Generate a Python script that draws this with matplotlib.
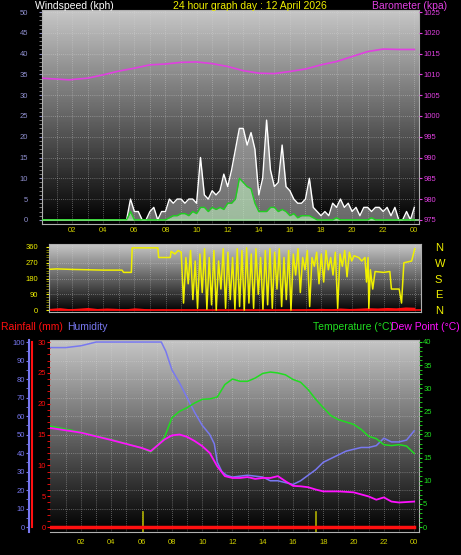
import numpy as np
import matplotlib
matplotlib.use("Agg")
import matplotlib.pyplot as plt
from matplotlib.lines import Line2D

plt.rcParams["font.family"] = ["Liberation Sans", "DejaVu Sans"]

BG = "black"
GUST = "white"
AVG = "#20d020"
BARO = "#e040e0"
DIRC = "#f0f000"
HUM = "#7878f0"
TEMP = "#20dd20"
DEW = "#ff10ff"
RAIN = "#ff1010"

# ---- data ----
wind_hours = np.linspace(0, 24, 97)
gust = [0] * 22 + [
    0, 5, 2, 2, 0, 0, 2, 3, 0, 2, 2, 5, 4, 5, 5, 4, 5, 5, 4, 15, 6, 5, 7, 6, 7, 11,
    8, 12, 17, 22, 22, 18, 21, 17, 6, 10, 24, 12, 8, 9, 18, 8, 7, 5, 4, 4, 5, 10,
    3, 2, 1, 2, 1, 4, 3, 5, 3, 4, 2, 3, 1, 3, 3, 2, 3, 3, 2, 3, 1, 3, 0, 0, 2, 0, 3]
avg = [0] * 22 + [
    0, 2, 0, 0, 0, 0, 0, 0, 0, 0, 0, 0.5, 1, 1, 1.5, 1.5, 1, 2, 1.5, 3, 3, 2, 3, 2.5,
    3, 2.5, 4, 4, 5, 10, 9, 8, 7.5, 4, 2, 2, 2, 3, 3, 2, 2.5, 2, 1, 1.5, 0.5, 1, 1,
    1, 0.5, 0, 0, 0, 0, 0, 0.5, 0, 0, 0, 0, 0, 0, 0, 0, 0.5, 0, 0, 0, 0, 0, 0, 0, 0, 0,
    0, 0]

baro_hours = [0, 1.8, 3, 4, 5, 6, 7, 8, 9, 10, 11, 12, 13, 14, 15, 16, 17, 18, 19,
              20, 21, 22, 23, 24]
baro = [1009.1, 1008.7, 1009.1, 1009.9, 1010.8, 1011.5, 1012.3, 1012.5, 1012.9,
        1013.0, 1012.6, 1011.9, 1010.9, 1010.3, 1010.2, 1010.7, 1011.3, 1012.3,
        1013.1, 1014.3, 1015.5, 1016.1, 1016.0, 1016.0]

dir_calm_hours = [0, 1, 2, 4, 5.2, 5.3, 5.8, 5.85, 7.5, 7.55, 8.3, 8.35, 8.6, 8.8]
dir_calm = [230, 235, 232, 228, 228, 215, 215, 355, 355, 300, 300, 335, 320, 340]
dir_gusty = [330, 40, 300, 150, 340, 60, 280, 10, 320, 100, 350, 5, 300, 30, 340, 0,
             280, 120, 350, 10, 330, 60, 300, 5, 350, 20, 340, 0, 355, 40, 320, 10,
             350, 90, 300, 5, 340, 30, 350, 10, 330, 120, 350, 20, 300, 60, 340, 0,
             320, 200, 350, 100, 300, 230, 340, 20, 300, 250, 330, 150, 320, 160,
             340, 230, 300, 200, 330, 10, 320, 250, 340, 190, 330, 280]
dir_late_hours = [20.1, 20.4, 20.6, 20.8, 20.9, 21.0, 21.05, 21.15, 21.3, 21.45, 22.0,
                  22.4, 22.5, 23.0, 23.15, 23.3, 23.8, 24.0]
dir_late = [310, 300, 280, 300, 160, 300, 10, 230, 120, 220, 215, 220, 120, 120, 40,
            270, 280, 350]
dir_low_hours = np.linspace(0, 24, 41)
dir_low = [12, 10, 14, 8, 11, 15, 9, 12, 10, 7, 13, 9, 4, 6, 3, 5, 4, 6, 3, 5, 4, 3, 6,
           4, 5, 3, 6, 4, 5, 8, 10, 7, 12, 9, 11, 14, 12, 15, 13, 18, 16]

clim_hours_h = [0, 1, 2, 2.5, 3, 7.3, 7.6, 8, 8.5, 9, 9.5, 10, 10.5, 10.8, 11, 11.3,
                11.6, 12, 13, 14, 14.5, 15, 15.5, 16, 16.5, 17, 17.5, 18, 18.5, 19,
                19.5, 20, 20.5, 21, 21.5, 22, 22.5, 23, 23.5, 24]
humidity = [97, 97, 98, 99, 100, 100, 95, 85, 78, 70, 62, 55, 50, 45, 35, 30, 28, 27,
            28, 27, 25, 25, 24, 23, 25, 28, 31, 35, 37, 39, 41, 42, 43, 43, 44, 48, 46,
            46, 47, 52]
clim_hours_t = [0, 2, 4, 6, 6.6, 7, 7.5, 8, 8.5, 9, 9.5, 10, 10.5, 11, 11.5, 12, 12.5,
                13, 13.5, 14, 14.5, 15, 15.5, 16, 16.5, 17, 17.5, 18, 18.5, 19, 20,
                20.5, 21, 21.5, 22, 22.5, 23, 23.5, 24]
temperature = [21.8, 20.5, 18.9, 17.1, 16.2, 17.5, 19.3, 23.6, 25, 25.8, 26.8, 27.6,
               27.7, 28.1, 30.8, 32, 31.5, 31.5, 32.2, 33.2, 33.5, 33.3, 32.9, 31.9,
               31.3, 29.7, 27.6, 25.8, 24.1, 23.2, 22.2, 21.1, 19.6, 19.1, 17.8, 17.6,
               17.8, 17.5, 15.9]
clim_hours_d = [0, 2, 4, 6, 6.6, 7, 7.5, 8, 8.5, 9, 9.5, 10, 10.5, 11, 11.5, 12, 12.5,
                13, 13.5, 14, 14.5, 15, 15.5, 16, 16.5, 17, 17.5, 18, 19, 20, 21, 21.5,
                22, 22.5, 23, 24]
dewpoint = [21.4, 20.4, 18.8, 17.1, 16.4, 17.5, 18.9, 19.8, 20, 19.5, 18.6, 17.5, 16,
            13.1, 11, 10.6, 10.6, 10.8, 10.4, 10.6, 10.6, 11, 9.9, 8.9, 8.8, 8.6, 8.1,
            7.7, 7.7, 7.5, 6.6, 5.9, 6.4, 5.5, 5.3, 5.5]
rain_hours = [0, 24]
rain = [0, 0]
sun_events = [6.08, 17.55]

hour_ticks = list(range(2, 25, 2))
hour_labels = ["%02d" % (h % 24) for h in hour_ticks]

W, H = 461, 555
fig = plt.figure(figsize=(W / 100, H / 100), dpi=100)
fig.patch.set_facecolor(BG)


def box(l, t, r, b):
    return [l / W, 1 - b / H, (r - l) / W, (b - t) / H]


def shade(ax):
    grad = np.linspace(0.78, 0.0, 256).reshape(-1, 1)
    ax.imshow(grad, extent=[0, 1, 0, 1], transform=ax.transAxes, cmap="gray",
              vmin=0, vmax=1, aspect="auto", zorder=0)
    ax.set_facecolor("black")
    for s in ax.spines.values():
        s.set_color("#b0b0b0")
        s.set_linewidth(0.8)


def grid(ax, ys):
    for h in range(1, 25):
        ax.axvline(h, color="#d8d8d8", lw=0.5, ls=(0, (1, 2)), zorder=1, alpha=0.7)
    for y in ys:
        ax.axhline(y, color="#d8d8d8", lw=0.5, ls=(0, (1, 2)), zorder=1, alpha=0.7)


fs = 5.5

# ---- top: wind + barometer ----
ax1 = fig.add_axes(box(42, 10, 419, 224))
shade(ax1)
ax1.set_xlim(0.06, 24.3)
ax1.set_ylim(-1, 50.5)
grid(ax1, range(5, 51, 5))
ax1.fill_between(wind_hours, gust, color="#e8e8e8", alpha=0.45, zorder=2, lw=0)
ax1.fill_between(wind_hours, avg, color="#c0f0c0", alpha=0.6, zorder=2, lw=0)
ax1.plot(wind_hours, gust, color=GUST, lw=1.0, zorder=3)
ax1.plot(wind_hours, avg, color=AVG, lw=1.0, zorder=4)
ax1.axhline(0, color="#a0e0a0", lw=1.2, zorder=2)
ax1.set_yticks(range(0, 51, 5))
ax1.set_yticks(range(0, 51), minor=True)
ax1.set_xticks(hour_ticks)
ax1.set_xticklabels(hour_labels)
ax1.tick_params(axis="y", colors="#9090c0", labelsize=fs, length=2, pad=8)
ax1.tick_params(axis="y", which="minor", colors="#909090", length=2)
ax1.tick_params(axis="x", colors="#d0d000", labelsize=fs, length=0, pad=2)
ax1.tick_params(axis="y", labelcolor="#9090d0")

ax1b = ax1.twinx()
ax1b.set_ylim(974, 1025.5)
ax1b.plot(baro_hours, baro, color=BARO, lw=1.2, zorder=5)
ax1b.set_yticks(range(975, 1026, 5))
ax1b.tick_params(axis="y", colors=BARO, labelsize=fs, length=2, pad=1)
for s in ax1b.spines.values():
    s.set_visible(False)

# ---- middle: wind direction ----
ax2 = fig.add_axes(box(49, 244, 421, 312))
shade(ax2)
ax2.set_xlim(0.51, 24.4)
ax2.set_ylim(-11, 377)
grid(ax2, [90, 180, 270])
ax2.fill_between(dir_low_hours, dir_low, color=RAIN, zorder=2, lw=0)
ax2.plot(dir_calm_hours + list(9 + 0.15 * np.arange(len(dir_gusty))) + dir_late_hours,
         dir_calm + dir_gusty + dir_late, color=DIRC, lw=1.1, zorder=3)
ax2.axhline(0, color=RAIN, lw=1.2, zorder=2)
ax2.set_xticks([])
ax2.set_yticks([0, 90, 180, 270, 360])
ax2.set_yticks(range(0, 361, 15), minor=True)
ax2.tick_params(axis="y", colors=DIRC, labelsize=fs, length=2, pad=6)
ax2.tick_params(axis="y", which="minor", colors="#909000", length=2)
ax2b = ax2.twinx()
ax2b.set_ylim(-11, 377)
ax2b.set_yticks([0, 90, 180, 270, 360])
ax2b.set_yticklabels(["N", "E", "S", "W", "N"])
ax2b.tick_params(axis="y", colors=DIRC, labelsize=8, length=0, pad=10)
for s in ax2b.spines.values():
    s.set_visible(False)

# ---- bottom: humidity, rain, temperature, dew point ----
ax3 = fig.add_axes(box(50, 340, 419, 532))
shade(ax3)
ax3.set_xlim(-0.05, 24.32)
ax3.set_ylim(-2.7, 101.1)
grid(ax3, range(10, 101, 10))
ax3.plot(clim_hours_h, humidity, color=HUM, lw=1.1, zorder=4)
for t in sun_events:
    ax3.axvline(t, ymin=0, ymax=0.105, color="#b0b000", lw=1.2, zorder=3)
ax3.set_xticks(hour_ticks)
ax3.set_xticklabels(hour_labels)
ax3.tick_params(axis="x", colors="#d0d000", labelsize=fs, length=0, pad=5)
ax3.set_yticks(range(0, 101, 10))
ax3.set_yticks(range(0, 101, 5), minor=True)
ax3.spines["left"].set_position(("outward", 15))
ax3.spines["left"].set_color(HUM)
ax3.spines["left"].set_linewidth(1.5)
ax3.tick_params(axis="y", colors=HUM, labelsize=fs, length=2, pad=1)
ax3.tick_params(axis="y", which="minor", colors=HUM, length=2)

ax3r = ax3.twinx()
ax3r.set_ylim(-0.81, 30.33)
ax3r.plot(rain_hours, rain, color=RAIN, lw=2.5, zorder=5)
ax3r.yaxis.set_ticks_position("left")
ax3r.set_yticks(range(0, 31, 5))
ax3r.set_yticks(range(0, 31), minor=True)
ax3r.tick_params(axis="y", colors=RAIN, labelsize=fs, length=2, pad=1)
ax3r.tick_params(axis="y", which="minor", colors=RAIN, length=2)
for s in ax3r.spines.values():
    s.set_visible(False)
# red rain axis line next to the humidity axis
fig.add_artist(Line2D([31.5 / W, 31.5 / W], [1 - 342 / H, 1 - 527 / H],
                      color=RAIN, lw=1.5))

ax3t = ax3.twinx()
ax3t.set_ylim(-1.08, 40.43)
ax3t.plot(clim_hours_t, temperature, color=TEMP, lw=1.1, zorder=5)
ax3t.plot(clim_hours_d, dewpoint, color=DEW, lw=1.3, zorder=5)
ax3t.set_yticks(range(0, 41, 5))
ax3t.set_yticks(range(0, 41), minor=True)
ax3t.tick_params(axis="y", colors=TEMP, labelsize=fs, length=2, pad=1)
ax3t.tick_params(axis="y", which="minor", colors=TEMP, length=2)
for s in ax3t.spines.values():
    s.set_visible(False)

# ---- titles ----
tfs = 7.5
fig.text(35 / W, 1 - 6 / H, "Windspeed (kph)", color="white", fontsize=tfs, va="center")
fig.text(250 / W, 1 - 6 / H, "24 hour graph day : 12 April 2026", color="#f0f000",
         fontsize=tfs, va="center", ha="center")
fig.text(447 / W, 1 - 6 / H, "Barometer (kpa)", color=BARO, fontsize=tfs, va="center",
         ha="right")
fig.text(1 / W, 1 - 327 / H, "Rainfall (mm)", color=RAIN, fontsize=tfs, va="center")
fig.text(67 / W, 1 - 327 / H, "Humidity", color=HUM, fontsize=tfs, va="center")
fig.text(313 / W, 1 - 327 / H, "Temperature (°C)", color=TEMP, fontsize=tfs, va="center")
fig.text(460 / W, 1 - 327 / H, "Dew Point (°C)", color=DEW, fontsize=tfs, va="center",
         ha="right")

fig.savefig("out.png", dpi=100, facecolor=BG)
